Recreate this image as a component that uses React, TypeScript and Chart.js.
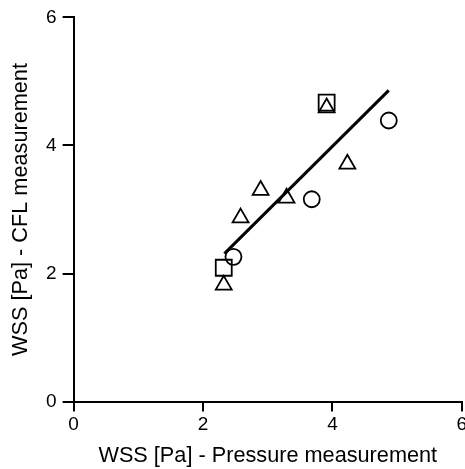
import React, { useEffect, useRef } from "react";
import { Chart, registerables } from "chart.js";

Chart.register(...registerables);

const squaresX = [2.32, 3.91];
const squaresY = [2.09, 4.67];
const circlesX = [2.47, 3.68, 4.87];
const circlesY = [2.26, 3.16, 4.39];
const trianglesX = [2.32, 2.58, 2.89, 3.29, 4.23, 3.91];
const trianglesY = [1.82, 2.87, 3.30, 3.18, 3.71, 4.59];
const fitX = [2.33, 4.87];
const fitY = [2.31, 4.86];
const tickValues = [0, 2, 4, 6];
const xTitle = "WSS [Pa] - Pressure measurement";
const yTitle = "WSS [Pa] - CFL measurement";

const pts = (xs: number[], ys: number[]) => xs.map((x, i) => ({ x, y: ys[i] }));

export default function App() {
  const ref = useRef<HTMLCanvasElement | null>(null);
  useEffect(() => {
    if (!ref.current) return;
    const font = "'Liberation Sans', Arial, sans-serif";
    const axis = (title: string, tickLen: number, tickPad: number, titlePad: any) => ({
      type: "linear" as const,
      min: 0,
      max: 6,
      afterBuildTicks: (s: any) => {
        s.ticks = tickValues.map((v) => ({ value: v }));
      },
      ticks: { color: "#000", font: { family: font, size: 19 }, padding: tickPad },
      grid: { display: true, drawOnChartArea: false, drawTicks: true, tickLength: tickLen, color: "#000", lineWidth: 2 },
      border: { display: true, color: "#000", width: 2 },
      title: { display: true, text: title, color: "#000", font: { family: font, size: 21.7 }, padding: titlePad },
    });
    const chart = new Chart(ref.current, {
      type: "scatter",
      data: {
        datasets: [
          {
            label: "fit",
            data: pts(fitX, fitY),
            showLine: true,
            borderColor: "#000",
            borderWidth: 3,
            pointRadius: 0,
          },
          {
            label: "squares",
            data: pts(squaresX, squaresY),
            pointStyle: "rect",
            pointRadius: 11.3,
            borderColor: "#000",
            backgroundColor: "rgba(0,0,0,0)",
            borderWidth: 1.8,
          },
          {
            label: "circles",
            data: pts(circlesX, circlesY),
            pointStyle: "circle",
            pointRadius: 8,
            borderColor: "#000",
            backgroundColor: "rgba(0,0,0,0)",
            borderWidth: 1.8,
          },
          {
            label: "triangles",
            data: pts(trianglesX, trianglesY),
            pointStyle: "triangle",
            pointRadius: 9.2,
            borderColor: "#000",
            backgroundColor: "rgba(0,0,0,0)",
            borderWidth: 1.8,
          },
        ],
      },
      options: {
        animation: false,
        responsive: false,
        maintainAspectRatio: false,
        layout: { padding: { left: 4, right: 8, top: 5, bottom: 0 } },
        plugins: { legend: { display: false }, tooltip: { enabled: false } },
        scales: {
          x: axis(xTitle, 10, 2, { top: 4.6, bottom: 0 }),
          y: axis(yTitle, 11, 6, { top: 4, bottom: 6 }),
        },
      },
    });
    return () => chart.destroy();
  }, []);
  return (
    <div style={{ position: "fixed", left: 0, top: 0, width: 465, height: 469, overflow: "hidden", background: "#fff" }}>
      <canvas ref={ref} width={475} height={469} style={{ width: 475, height: 469, display: "block" }} />
    </div>
  );
}
